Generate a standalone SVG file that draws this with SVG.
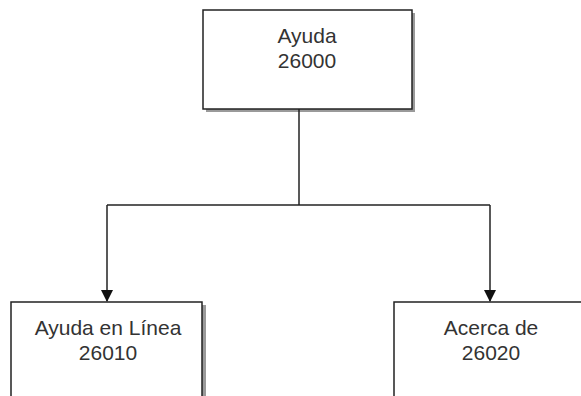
<svg xmlns="http://www.w3.org/2000/svg" width="581" height="396" viewBox="0 0 581 396">
<style>
.box{fill:#fff;stroke:#222;stroke-width:1.5}
.shadow{fill:#9a9a9a}
.t{font-family:"Liberation Sans",Arial,sans-serif;font-size:21px;fill:#333;text-anchor:middle}
.c{fill:none;stroke:#222;stroke-width:1.5}
</style>
<defs>
<marker id="ah" markerWidth="12" markerHeight="12" refX="11" refY="6" orient="auto" markerUnits="userSpaceOnUse" viewBox="0 0 12 12">
<path d="M0,0 L12,6 L0,12 Z" fill="#111"/>
</marker>
</defs>
<rect width="581" height="396" fill="#fff"/>
<g id="n26000">
<rect class="shadow" x="206" y="13" width="209" height="99"/>
<rect class="box" x="203" y="10" width="209" height="99"/>
<text class="t" x="307" y="43">Ayuda</text>
<text class="t" x="307" y="68">26000</text>
</g>
<g id="n26010">
<rect class="shadow" x="14" y="305" width="192" height="100"/>
<rect class="box" x="11" y="302" width="191" height="100"/>
<text class="t" x="108" y="335">Ayuda en Línea</text>
<text class="t" x="108" y="360">26010</text>
</g>
<g id="n26020">
<rect class="shadow" x="397" y="305" width="200" height="100"/>
<rect class="box" x="394" y="302" width="200" height="100"/>
<text class="t" x="491" y="335">Acerca de</text>
<text class="t" x="491" y="360">26020</text>
</g>
<g id="connectors">
<path class="c" d="M299,109 V205"/>
<path class="c" d="M107,205 H490"/>
<path class="c" d="M107,205 V301" marker-end="url(#ah)"/>
<path class="c" d="M490,205 V301" marker-end="url(#ah)"/>
</g>
</svg>
